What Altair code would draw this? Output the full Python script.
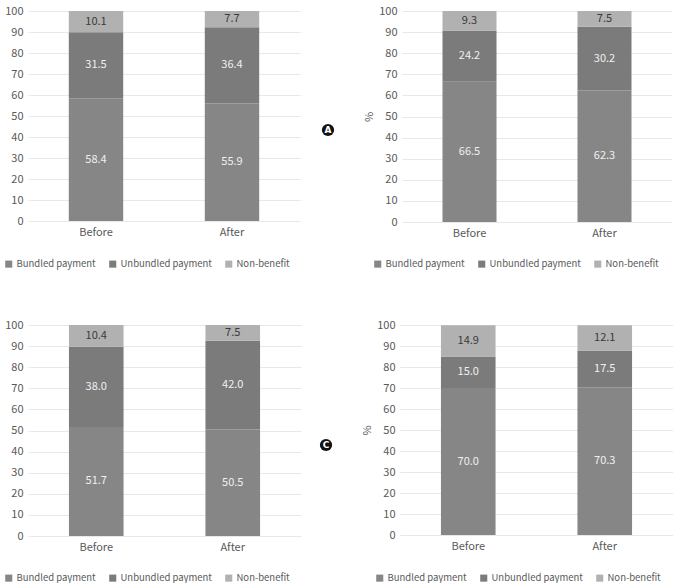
import altair as alt
import pandas as pd

FONT = "Noto Sans CJK KR"

periods = ["Before", "After"]
categories = ["Bundled payment", "Unbundled payment", "Non-benefit"]
colors = ["#868686", "#7b7b7b", "#b1b1b1"]

# Share of expenses (%) per period: Before, After
bundled_a = [58.4, 55.9]
unbundled_a = [31.5, 36.4]
nonbenefit_a = [10.1, 7.7]

bundled_b = [66.5, 62.3]
unbundled_b = [24.2, 30.2]
nonbenefit_b = [9.3, 7.5]

bundled_c = [51.7, 50.5]
unbundled_c = [38.0, 42.0]
nonbenefit_c = [10.4, 7.5]

bundled_d = [70.0, 70.3]
unbundled_d = [15.0, 17.5]
nonbenefit_d = [14.9, 12.1]

panel_tags = ["A", "B", "C", "D"]


def frame(bundled, unbundled, nonbenefit):
    rows = []
    for i, period in enumerate(periods):
        for rank, (cat, vals) in enumerate(zip(categories, [bundled, unbundled, nonbenefit])):
            rows.append({"period": period, "category": cat, "rank": rank, "value": vals[i]})
    return pd.DataFrame(rows)


def y_axis():
    return alt.Axis(values=list(range(0, 101, 10)), ticks=False, domain=False,
                    labelOverlap=False, labelColor="#595959", labelFontSize=11,
                    labelFont=FONT, labelPadding=5, gridColor="#e8e8e8",
                    titleFont=FONT, titleFontSize=11, titleFontWeight="normal",
                    titleColor="#595959", titlePadding=4)


def panel(df, width, height, legend_x, y_title=None, tag=None, tag_x=0, tag_y=0):
    base = alt.Chart(df)
    x_scale = alt.Scale(paddingInner=0.6, paddingOuter=0.3)
    x_axis = alt.Axis(labelAngle=0, ticks=False, domain=False, grid=False,
                      labelColor="#595959", labelFontSize=11, labelFont=FONT, labelPadding=5)
    y_scale = alt.Scale(domain=[0, 100], nice=False, clamp=True)

    bars = base.mark_bar().encode(
        x=alt.X("period:N", sort=periods, title=None, scale=x_scale, axis=x_axis),
        y=alt.Y("value:Q", stack="zero", scale=y_scale, axis=y_axis(), title=y_title),
        color=alt.Color(
            "category:N",
            sort=categories,
            scale=alt.Scale(domain=categories, range=colors),
            legend=alt.Legend(
                title=None, orient="none", legendX=legend_x, legendY=248,
                direction="horizontal", columns=3, symbolType="square", symbolSize=50,
                symbolStrokeWidth=0, labelFont=FONT, labelFontSize=9.5, labelColor="#595959",
                labelOffset=3, columnPadding=12, padding=0,
            ),
        ),
        order=alt.Order("rank:Q"),
    )

    labels = base.transform_stack(
        stack="value", groupby=["period"], as_=["y0", "y1"],
        sort=[alt.SortField("rank", order="ascending")],
    ).transform_calculate(
        mid="(datum.y0 + datum.y1) / 2"
    ).mark_text(font=FONT, fontSize=11).encode(
        x=alt.X("period:N", sort=periods, title=None, scale=x_scale, axis=x_axis),
        y=alt.Y("mid:Q", scale=y_scale, axis=y_axis(), title=y_title),
        text=alt.Text("value:Q", format=".1f"),
        color=alt.condition(alt.datum.category == "Non-benefit",
                            alt.value("#3a3a3a"), alt.value("#f0f0f0")),
    )

    layers = [bars, labels]
    if tag is not None:
        tag_df = pd.DataFrame({"tag": [tag]})
        dot = alt.Chart(tag_df).mark_circle(size=150, color="#111111", opacity=1).encode(
            x=alt.value(tag_x), y=alt.value(tag_y)
        )
        letter = alt.Chart(tag_df).mark_text(
            color="white", font="DejaVu Sans", fontSize=9, fontWeight="bold"
        ).encode(x=alt.value(tag_x), y=alt.value(tag_y), text="tag:N")
        layers += [dot, letter]

    return alt.layer(*layers).properties(width=width, height=height)


panel_a = panel(frame(bundled_a, unbundled_a, nonbenefit_a), 272, 210, -24,
                tag=panel_tags[0], tag_x=300, tag_y=119)
panel_b = panel(frame(bundled_b, unbundled_b, nonbenefit_b), 270, 211, -29, y_title="%")
panel_c = panel(frame(bundled_c, unbundled_c, nonbenefit_c), 273, 211, -24,
                tag=panel_tags[2], tag_x=298, tag_y=120)
panel_d = panel(frame(bundled_d, unbundled_d, nonbenefit_d), 273, 210, -25, y_title="%")

top = alt.hconcat(panel_a, panel_b, spacing=28).resolve_scale(color="independent")
bottom = alt.hconcat(panel_c, panel_d, spacing=28).resolve_scale(color="independent")

chart = alt.vconcat(top, bottom, spacing=50).resolve_scale(color="independent").properties(
    padding={"left": 4, "top": 5, "right": 0, "bottom": 0},
    background="white",
).configure_view(stroke=None)

chart.save("out.html", embed_options={"renderer": "svg", "actions": False})
